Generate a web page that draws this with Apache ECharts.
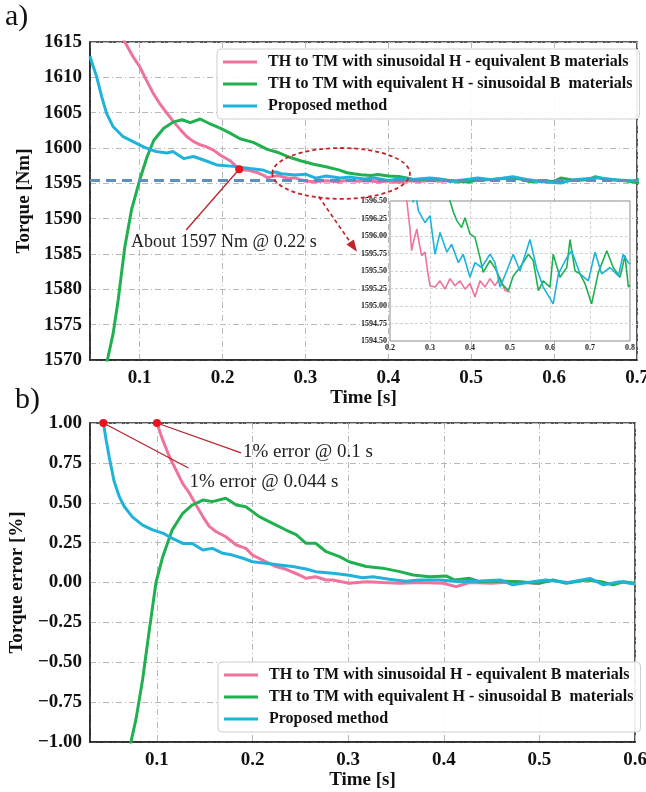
<!DOCTYPE html>
<html>
<head>
<meta charset="utf-8">
<script src="https://cdn.jsdelivr.net/npm/echarts@6/dist/echarts.min.js"></script>
<style>
  html, body { margin: 0; padding: 0; background: #fff; }
  #chart { width: 646px; height: 792px; }
</style>
</head>
<body>
<div id="chart"></div>
<script>
// ---- Series names ----
const seriesNames = [
  'TH to TM with sinusoidal H - equivalent B materials',
  'TH to TM with equivalent H - sinusoidal B  materials',
  'Proposed method'
];

// ---- a) Torque [Nm] versus time [s] ----
const pinkT  = [0.076, 0.082, 0.092, 0.100, 0.108, 0.116, 0.124, 0.133, 0.141, 0.149, 0.157, 0.165, 0.172, 0.180, 0.189, 0.197, 0.209, 0.220, 0.233, 0.242, 0.250, 0.254, 0.260, 0.267, 0.273, 0.279, 0.2875, 0.294, 0.300, 0.3125, 0.325, 0.3375, 0.350, 0.3625, 0.375, 0.3875, 0.400, 0.4125, 0.425, 0.4375, 0.450, 0.4625, 0.475, 0.4875, 0.500];
const pinkNm = [1616.5, 1615.0, 1612.9, 1611.5, 1609.6, 1607.8, 1606.3, 1604.9, 1603.7, 1602.6, 1601.6, 1600.9, 1600.5, 1600.2, 1599.7, 1599.0, 1598.2, 1597.0, 1596.8, 1596.5, 1596.1, 1595.79, 1595.95, 1596.1, 1595.9, 1595.72, 1595.77, 1595.5, 1595.29, 1595.27, 1595.36, 1595.24, 1595.39, 1595.29, 1595.36, 1595.24, 1595.32, 1595.13, 1595.36, 1595.27, 1595.39, 1595.29, 1595.41, 1595.22, 1595.20];

const greenT  = [0.055, 0.061, 0.068, 0.074, 0.082, 0.090, 0.100, 0.109, 0.117, 0.129, 0.141, 0.151, 0.161, 0.173, 0.185, 0.197, 0.209, 0.221, 0.237, 0.254, 0.266, 0.278, 0.294, 0.310, 0.326, 0.340, 0.350, 0.358, 0.367, 0.379, 0.3875, 0.400, 0.4125, 0.425, 0.433, 0.450, 0.467, 0.479, 0.496, 0.508, 0.525, 0.546, 0.558, 0.571, 0.583, 0.600, 0.608, 0.625, 0.642, 0.650, 0.6625, 0.675, 0.6875, 0.704, 0.721, 0.742, 0.758, 0.775, 0.7875, 0.796, 0.800];
const greenNm = [1566.0, 1570.0, 1573.8, 1578.5, 1586.0, 1591.2, 1595.5, 1598.8, 1601.1, 1602.8, 1603.7, 1604.0, 1603.6, 1604.1, 1603.4, 1602.8, 1602.1, 1601.3, 1600.8, 1599.8, 1599.4, 1598.8, 1598.2, 1597.7, 1597.3, 1596.9, 1596.5, 1596.35, 1596.22, 1596.12, 1596.26, 1596.03, 1595.98, 1595.69, 1595.48, 1595.65, 1595.50, 1595.32, 1595.22, 1595.43, 1595.55, 1595.74, 1595.65, 1595.22, 1595.36, 1595.27, 1595.74, 1595.41, 1595.55, 1595.95, 1595.50, 1595.46, 1595.32, 1595.03, 1595.48, 1595.79, 1595.55, 1595.41, 1595.72, 1595.27, 1595.30];

const blueT  = [0.040, 0.042, 0.048, 0.054, 0.060, 0.068, 0.080, 0.092, 0.104, 0.112, 0.120, 0.133, 0.140, 0.153, 0.165, 0.177, 0.193, 0.213, 0.233, 0.248, 0.258, 0.264, 0.271, 0.2875, 0.300, 0.3125, 0.325, 0.342, 0.354, 0.371, 0.383, 0.400, 0.4125, 0.429, 0.450, 0.4625, 0.475, 0.492, 0.508, 0.525, 0.550, 0.567, 0.583, 0.608, 0.621, 0.642, 0.654, 0.675, 0.696, 0.7125, 0.729, 0.750, 0.771, 0.783, 0.796, 0.800];
const blueNm = [1613.0, 1612.2, 1610.1, 1607.3, 1604.9, 1603.0, 1601.6, 1600.9, 1600.2, 1599.8, 1599.5, 1599.3, 1599.5, 1598.5, 1598.8, 1598.3, 1597.6, 1597.4, 1597.1, 1596.9, 1596.48, 1596.6, 1596.36, 1596.19, 1596.29, 1595.74, 1596.05, 1595.77, 1595.88, 1595.62, 1595.74, 1595.41, 1595.62, 1595.55, 1595.74, 1595.62, 1595.27, 1595.50, 1595.74, 1595.50, 1595.95, 1595.53, 1595.27, 1595.03, 1595.46, 1595.69, 1595.79, 1595.46, 1595.36, 1595.77, 1595.46, 1595.55, 1595.43, 1595.74, 1595.62, 1595.60];

const steadyTorque = 1595.5;
const torqueTicks = [1570, 1615, 5];
const insetTicks = [1594.5, 1596.5, 0.25];

// ---- b) Torque error [%] versus time [s] ----
const pinkErrT = [0.098, 0.100, 0.106, 0.113, 0.120, 0.127, 0.134, 0.141, 0.148, 0.155, 0.162, 0.172, 0.183, 0.193, 0.200, 0.214, 0.2245, 0.235, 0.249, 0.256, 0.266, 0.277, 0.284, 0.301, 0.319, 0.336, 0.354, 0.375, 0.399, 0.413, 0.427, 0.450, 0.475, 0.500];
const pinkErr  = [1.05, 1.00, 0.894, 0.79, 0.705, 0.62, 0.56, 0.486, 0.413, 0.35, 0.318, 0.287, 0.235, 0.214, 0.172, 0.13, 0.10, 0.083, 0.047, 0.026, 0.036, 0.016, 0.016, -0.005, 0.005, 0.0, -0.005, 0.0, -0.005, -0.026, 0.0, -0.005, 0.005, -0.008];

const greenErrT = [0.068, 0.0728, 0.078, 0.085, 0.092, 0.099, 0.106, 0.116, 0.127, 0.137, 0.148, 0.158, 0.172, 0.183, 0.193, 0.207, 0.221, 0.235, 0.2456, 0.256, 0.266, 0.277, 0.291, 0.301, 0.319, 0.336, 0.354, 0.368, 0.385, 0.403, 0.411, 0.427, 0.4375, 0.458, 0.479, 0.500, 0.514, 0.528, 0.549, 0.565, 0.577, 0.588, 0.600];
const greenErr  = [-1.2, -1.0, -0.86, -0.61, -0.30, 0.0, 0.16, 0.33, 0.434, 0.486, 0.517, 0.507, 0.528, 0.486, 0.475, 0.413, 0.371, 0.329, 0.300, 0.246, 0.246, 0.193, 0.162, 0.13, 0.10, 0.09, 0.068, 0.047, 0.036, 0.04, 0.016, 0.026, 0.005, 0.01, 0.005, -0.005, 0.016, -0.005, 0.016, 0.005, -0.015, 0.005, -0.005];

const blueErrT = [0.042, 0.044, 0.047, 0.050, 0.055, 0.0605, 0.066, 0.0745, 0.085, 0.0955, 0.106, 0.116, 0.127, 0.137, 0.148, 0.158, 0.169, 0.179, 0.190, 0.200, 0.214, 0.228, 0.242, 0.256, 0.266, 0.284, 0.301, 0.315, 0.326, 0.343, 0.360, 0.375, 0.396, 0.417, 0.438, 0.459, 0.472, 0.493, 0.507, 0.530, 0.553, 0.567, 0.584, 0.600];
const blueErr  = [1.08, 1.00, 0.89, 0.79, 0.64, 0.54, 0.475, 0.41, 0.36, 0.33, 0.31, 0.277, 0.245, 0.245, 0.204, 0.214, 0.183, 0.172, 0.152, 0.13, 0.12, 0.11, 0.10, 0.085, 0.068, 0.058, 0.045, 0.03, 0.036, 0.02, 0.008, 0.016, 0.016, 0.005, 0.01, 0.016, -0.015, 0.005, 0.016, 0.0, 0.026, -0.015, 0.005, -0.01];

const errTicks = [-1, 1, 0.25];

// ---- Annotations (time, value) ----
const settlePoint = [0.22, 1597];
const settleText = 'About 1597 Nm @ 0.22 s';
const errPointA = [0.1, 1.0];
const errTextA = '1% error @ 0.1 s';
const errPointB = [0.044, 1.0];
const errTextB = '1% error @ 0.044 s';

// ---- Styling ----
const colors = ['#ef739c', '#21b04f', '#1fb3dc'];
const serif = 'Liberation Serif, Times New Roman, serif';
const annotRed = '#b8232b';
const dotRed = '#e8131b';
const gridDash = [6, 3, 1, 3];

const zip = (t, v) => t.map((x, i) => [x, v[i]]);
const tenth = v => (Math.abs(v * 10 - Math.round(v * 10)) < 1e-6 ? v.toFixed(1) : '');
const minus = s => s.replace('-', '\u2212');

function mainXAxis(gridIndex, min, max, split) {
  return {
    type: 'value', gridIndex, min, max, splitNumber: split,
    name: 'Time [s]', nameLocation: 'middle', nameGap: 29,
    nameTextStyle: { fontFamily: serif, fontWeight: 'bold', fontSize: 19, color: '#111' },
    axisLine: { show: true, onZero: false, lineStyle: { color: '#222', width: 1.5 } },
    axisTick: { show: false },
    axisLabel: { formatter: tenth, fontFamily: serif, fontWeight: 'bold', fontSize: 19, color: '#111', margin: 9, showMinLabel: false },
    splitLine: { show: true, lineStyle: { color: '#b9b9b9', width: 1, type: gridDash } }
  };
}

function mainYAxis(gridIndex, ticks, name, gap, fmt) {
  return {
    type: 'value', gridIndex, min: ticks[0], max: ticks[1], interval: ticks[2],
    name, nameLocation: 'middle', nameGap: gap, nameRotate: 90,
    nameTextStyle: { fontFamily: serif, fontWeight: 'bold', fontSize: 19, color: '#111' },
    axisLine: { show: true, onZero: false, lineStyle: { color: '#222', width: 1.5 } },
    axisTick: { show: false },
    axisLabel: { formatter: fmt, fontFamily: serif, fontWeight: 'bold', fontSize: 19, color: '#111', margin: 8 },
    splitLine: { show: true, lineStyle: { color: '#b9b9b9', width: 1, type: gridDash } }
  };
}

function lineSeries(name, data, xi, yi, color, width, z, extra) {
  return Object.assign({
    type: 'line', name, data, xAxisIndex: xi, yAxisIndex: yi,
    showSymbol: false, symbol: 'none', smooth: false, clip: true,
    lineStyle: { color, width }, itemStyle: { color }, z, silent: true
  }, extra || {});
}

function legendBox(top, left) {
  return {
    orient: 'vertical', left, top, data: seriesNames,
    icon: 'rect', itemWidth: 34, itemHeight: 3, itemGap: 6,
    padding: [5, 7, 5, 6],
    backgroundColor: 'rgba(255,255,255,0.9)', borderColor: '#cfcfcf', borderWidth: 1, borderRadius: 4,
    textStyle: { fontFamily: serif, fontWeight: 'bold', fontSize: 16, color: '#111', lineHeight: 16, padding: [0, 0, 0, 6] },
    selectedMode: false
  };
}

const chart = echarts.init(document.getElementById('chart'), null, { renderer: 'canvas' });

const option = {
  animation: false,
  backgroundColor: '#fff',
  color: colors,
  grid: [
    { left: 90, top: 42, width: 547, height: 318, show: true, borderColor: '#222', borderWidth: 1.5, backgroundColor: 'transparent', outerBoundsMode: 'none' },
    { left: 390, top: 201, width: 240, height: 140, show: true, borderColor: '#8a8a8a', borderWidth: 1, backgroundColor: '#fff', z: 10, outerBoundsMode: 'none' },
    { left: 90, top: 423, width: 545, height: 319, show: true, borderColor: '#222', borderWidth: 1.5, backgroundColor: 'transparent', outerBoundsMode: 'none' }
  ],
  xAxis: [
    mainXAxis(0, 0.04, 0.7, 7),
    {
      type: 'value', gridIndex: 1, min: 0.2, max: 0.8, interval: 0.1, z: 11,
      axisLine: { show: false }, axisTick: { show: false },
      axisLabel: { formatter: v => v.toFixed(1), fontFamily: serif, fontWeight: 'bold', fontSize: 8, color: '#222', margin: 3 },
      splitLine: { show: true, lineStyle: { color: '#c8c8c8', width: 0.8, type: [3, 2] } }
    },
    mainXAxis(2, 0.03, 0.6, 6)
  ],
  yAxis: [
    mainYAxis(0, torqueTicks, 'Torque [Nm]', 50, v => String(v)),
    {
      type: 'value', gridIndex: 1, min: insetTicks[0], max: insetTicks[1], interval: insetTicks[2], z: 11,
      axisLine: { show: false }, axisTick: { show: false },
      axisLabel: { formatter: v => v.toFixed(2), fontFamily: serif, fontWeight: 'bold', fontSize: 8, color: '#222', margin: 3 },
      splitLine: { show: true, lineStyle: { color: '#c8c8c8', width: 0.8, type: [3, 2] } }
    },
    mainYAxis(2, errTicks, 'Torque error [%]', 52, v => minus(v.toFixed(2)))
  ],
  legend: [legendBox(49, 217), legendBox(662, 218)],
  series: [
    // a) main panel
    lineSeries(seriesNames[0], zip(pinkT, pinkNm), 0, 0, colors[0], 3, 2, {
      markPoint: {
        symbol: 'circle', symbolSize: 8, silent: true, animation: false,
        itemStyle: { color: dotRed }, label: { show: false },
        data: [{ coord: settlePoint }]
      },
      markLine: {
        silent: true, animation: false, symbol: ['none', 'none'], label: { show: false },
        lineStyle: { color: annotRed, width: 1.3, type: 'solid' },
        data: [[{ coord: settlePoint }, { coord: [0.156, 1588.4] }]]
      }
    }),
    lineSeries(seriesNames[1], zip(greenT, greenNm), 0, 0, colors[1], 3, 2, {
      markLine: {
        silent: true, animation: false, symbol: ['none', 'triangle'], symbolSize: [9, 12], label: { show: false },
        lineStyle: { color: '#c42128', width: 1.6, type: [4, 3] },
        data: [[{ coord: [0.316, 1593.1] }, { coord: [0.358, 1586.0] }]]
      }
    }),
    lineSeries(seriesNames[2], zip(blueT, blueNm), 0, 0, colors[2], 3, 2, {
      markLine: {
        silent: true, animation: false, symbol: ['none', 'none'], label: { show: false },
        lineStyle: { color: '#5f8fbf', width: 3, type: [10, 6] },
        data: [{ yAxis: steadyTorque }]
      }
    }),
    // a) zoomed inset
    lineSeries(seriesNames[0], zip(pinkT, pinkNm), 1, 1, colors[0], 1.6, 12),
    lineSeries(seriesNames[1], zip(greenT, greenNm), 1, 1, colors[1], 1.6, 12),
    lineSeries(seriesNames[2], zip(blueT, blueNm), 1, 1, colors[2], 1.6, 12, {
      markLine: {
        silent: true, animation: false, symbol: ['none', 'none'], label: { show: false },
        lineStyle: { color: '#5f8fbf', width: 1.2, type: [5, 3] },
        data: [{ yAxis: steadyTorque }]
      }
    }),
    // b) error panel
    lineSeries(seriesNames[0], zip(pinkErrT, pinkErr), 2, 2, colors[0], 3, 2, {
      markPoint: {
        symbol: 'circle', symbolSize: 8, silent: true, animation: false,
        itemStyle: { color: dotRed }, label: { show: false },
        data: [{ coord: errPointA }]
      },
      markLine: {
        silent: true, animation: false, symbol: ['none', 'none'], label: { show: false },
        lineStyle: { color: annotRed, width: 1.3, type: 'solid' },
        data: [[{ coord: errPointA }, { coord: [0.188, 0.812] }]]
      }
    }),
    lineSeries(seriesNames[1], zip(greenErrT, greenErr), 2, 2, colors[1], 3, 2),
    lineSeries(seriesNames[2], zip(blueErrT, blueErr), 2, 2, colors[2], 3, 2, {
      markPoint: {
        symbol: 'circle', symbolSize: 8, silent: true, animation: false,
        itemStyle: { color: dotRed }, label: { show: false },
        data: [{ coord: errPointB }]
      },
      markLine: {
        silent: true, animation: false, symbol: ['none', 'none'], label: { show: false },
        lineStyle: { color: annotRed, width: 1.3, type: 'solid' },
        data: [[{ coord: errPointB }, { coord: [0.133, 0.718] }]]
      }
    })
  ]
};

chart.setOption(option);

// Place the annotation texts and the zoom ellipse from data coordinates.
const px = (gridIndex, p) => chart.convertToPixel({ gridIndex }, p);
const c0 = px(0, [0.343, 1596.4]);
const e1 = px(0, [0.343 + 0.083, 1596.4 - 3.6]);
const tSettle = px(0, [0.0896, 1586.7]);
const tA = px(2, [0.190, 0.818]);
const tB = px(2, [0.134, 0.63]);
const textStyle = size => ({ fontFamily: serif, fontSize: size, fill: '#222', verticalAlign: 'middle' });

chart.setOption({
  graphic: [
    { type: 'text', left: 5, top: 2, z: 20, style: { text: 'a)', fontFamily: serif, fontSize: 30, fill: '#111' } },
    { type: 'text', left: 15, top: 385, z: 20, style: { text: 'b)', fontFamily: serif, fontSize: 30, fill: '#111' } },
    {
      type: 'ellipse', z: 20, silent: true,
      shape: { cx: c0[0], cy: c0[1], rx: e1[0] - c0[0], ry: e1[1] - c0[1] },
      style: { fill: 'none', stroke: '#c42128', lineWidth: 1.8, lineDash: [4, 3] }
    },
    { type: 'text', x: tSettle[0], y: tSettle[1], z: 20, style: Object.assign({ text: settleText }, textStyle(18)) },
    { type: 'text', x: tA[0], y: tA[1], z: 20, style: Object.assign({ text: errTextA }, textStyle(19)) },
    { type: 'text', x: tB[0], y: tB[1], z: 20, style: Object.assign({ text: errTextB }, textStyle(19)) }
  ]
});
</script>
</body>
</html>
